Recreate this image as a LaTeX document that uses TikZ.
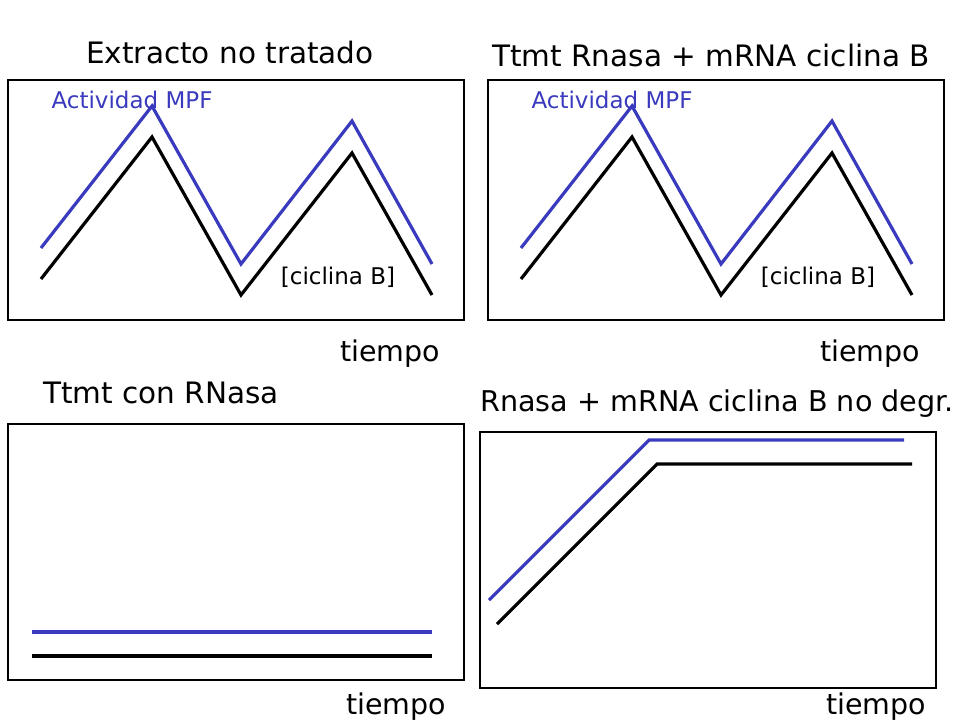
\documentclass[tikz,border=0pt]{standalone}
\usepackage{fontspec}
\setmainfont{DejaVu Sans}
\definecolor{mpfblue}{RGB}{58,58,190}

\begin{document}
\begin{tikzpicture}[x=1pt,y=-1pt,
    box/.style={draw=black, line width=1.2pt},
    curve/.style={line width=3.2pt, line join=miter},
    title/.style={font=\fontsize{29.5}{34}\selectfont},
    axis/.style={font=\fontsize{28.5}{33}\selectfont},
    lbl/.style={font=\fontsize{23}{27}\selectfont}]
\useasboundingbox (0,0) rectangle (960,720);
% upper panels: oscillating curves
\foreach \dx/\name in {0/a,480/b} {
\draw[box] (8+\dx,80) rectangle (464+\dx,320);
\draw[curve, color=mpfblue] (41+\dx,248) -- (152+\dx,106) -- (241+\dx,264) -- (352+\dx,121) -- (432+\dx,264);
\draw[curve, color=black] (41+\dx,279) -- (152+\dx,137) -- (241+\dx,295) -- (352+\dx,153) -- (432+\dx,295);
\node[lbl, text=mpfblue] (mpf\name) at (132+\dx,100) {Actividad MPF};
\node[lbl] (cyc\name) at (338+\dx,277) {[ciclina B]};
\node[axis] (t\name) at (390+\dx,354) {tiempo};
}
\node[title] (ttla) at (230,53) {Extracto no tratado};
\node[title] (ttlb) at (711,56) {Ttmt Rnasa + mRNA ciclina B};
% lower left: flat curves
\draw[box] (8,424) rectangle (464,680);
\draw[curve, color=mpfblue] (32,632) -- (432,632);
\draw[curve, color=black] (32,656) -- (432,656);
\node[title] (ttlc) at (161,393) {Ttmt con RNasa};
\node[axis] (tc) at (396,707) {tiempo};
% lower right: rise and plateau
\draw[box] (480,432) rectangle (936,688);
\draw[curve, color=mpfblue] (489,600) -- (649,440) -- (904,440);
\draw[curve, color=black] (497,624) -- (657,464) -- (912,464);
\node[title, font=\fontsize{28.6}{33}\selectfont] (ttld) at (717,404) {Rnasa + mRNA ciclina B no degr.};
\node[axis] (td) at (876,707) {tiempo};
\end{tikzpicture}
\end{document}
